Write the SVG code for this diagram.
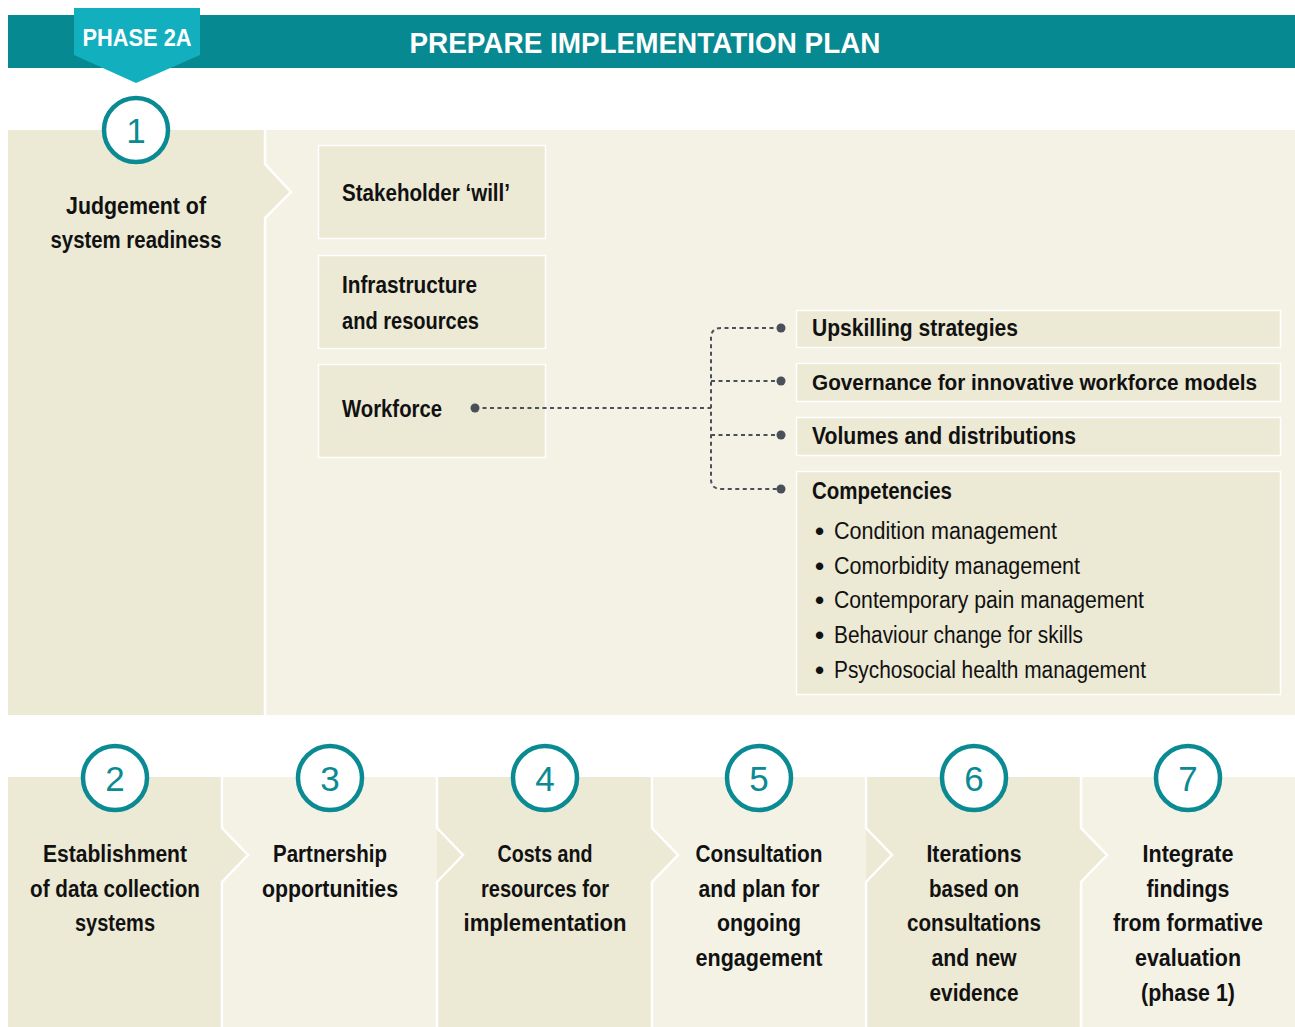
<svg xmlns="http://www.w3.org/2000/svg" width="1295" height="1027" viewBox="0 0 1295 1027">
<style>
.t{font-family:"Liberation Sans",Arial,sans-serif;}
.b{font-weight:bold;fill:#111;font-size:23px;}
.r{font-weight:normal;fill:#111;font-size:23px;}
.c{text-anchor:middle;}
.num{font-family:"Liberation Sans",Arial,sans-serif;font-size:35px;fill:#0a8a92;text-anchor:middle;}
.ring{fill:#fff;stroke:#0a8a92;stroke-width:4.5;}
.dark{fill:#ece9d4;}
.light{fill:#f4f2e5;}
.box{fill:#ece9d4;stroke:#fff;stroke-width:1.5;}
.sep{fill:none;stroke:#fff;stroke-width:2.5;}
.dash{fill:none;stroke:#4a5059;stroke-width:2;stroke-dasharray:4 3.5;}
.dot{fill:#4a5059;}
.bul{font-family:"Liberation Sans",Arial,sans-serif;font-weight:bold;fill:#111;font-size:26px;}
</style>
<rect width="1295" height="1027" fill="#fff"/>
<g id="header">
<rect x="8" y="15" width="1287" height="53" fill="#078991"/>
<polygon points="74,8 200,8 200,55 136,83 74,55" fill="#12b0bf"/>
<text x="137" y="46" class="t" font-weight="bold" font-size="24" fill="#fff" text-anchor="middle" textLength="109" lengthAdjust="spacingAndGlyphs">PHASE 2A</text>
<text x="645" y="53" class="t" font-weight="bold" font-size="29" fill="#fff" text-anchor="middle" textLength="471" lengthAdjust="spacingAndGlyphs">PREPARE IMPLEMENTATION PLAN</text>
</g>
<g id="panel-top">
<rect x="265" y="130" width="1030" height="585" class="light"/>
<polygon points="8,130 265,130 265,164 291,192 265,218 265,715 8,715" class="dark"/>
<polyline points="265,130 265,164 291,192 265,218 265,715" class="sep"/>
</g>
<g id="step1">
<circle cx="136" cy="130" r="32" class="ring"/>
<text x="136" y="143" class="num">1</text>
<text x="136" y="214" class="t b c" textLength="140" lengthAdjust="spacingAndGlyphs">Judgement of</text>
<text x="136" y="248" class="t b c" textLength="171" lengthAdjust="spacingAndGlyphs">system readiness</text>
</g>
<g id="stakeholder">
<rect x="318.5" y="145.5" width="227" height="93" class="box"/>
<text x="342" y="201" class="t b" textLength="168" lengthAdjust="spacingAndGlyphs">Stakeholder ‘will’</text>
</g>
<g id="infrastructure">
<rect x="318.5" y="255.5" width="227" height="93" class="box"/>
<text x="342" y="293" class="t b" textLength="135" lengthAdjust="spacingAndGlyphs">Infrastructure</text>
<text x="342" y="329" class="t b" textLength="137" lengthAdjust="spacingAndGlyphs">and resources</text>
</g>
<g id="workforce">
<rect x="318.5" y="364.5" width="227" height="93" class="box"/>
<text x="342" y="417" class="t b" textLength="100" lengthAdjust="spacingAndGlyphs">Workforce</text>
</g>
<g id="connectors">
<path d="M475,408 H711" class="dash"/>
<path d="M781,328 H721 Q711,328 711,338 V479 Q711,489 721,489 H781" class="dash"/>
<path d="M711,381 H781 M711,435 H781" class="dash"/>
<circle cx="475" cy="408" r="4.5" class="dot"/>
<circle cx="781" cy="328" r="4.5" class="dot"/>
<circle cx="781" cy="381" r="4.5" class="dot"/>
<circle cx="781" cy="435" r="4.5" class="dot"/>
<circle cx="781" cy="489" r="4.5" class="dot"/>
</g>
<g id="upskilling">
<rect x="796.5" y="310.5" width="484" height="37" class="box"/>
<text x="812" y="336" class="t b" textLength="206" lengthAdjust="spacingAndGlyphs">Upskilling strategies</text>
</g>
<g id="governance">
<rect x="796.5" y="363.5" width="484" height="38" class="box"/>
<text x="812" y="390" class="t b" style="font-size:21.5px" textLength="445" lengthAdjust="spacingAndGlyphs">Governance for innovative workforce models</text>
</g>
<g id="volumes">
<rect x="796.5" y="417.5" width="484" height="38" class="box"/>
<text x="812" y="444" class="t b" textLength="264" lengthAdjust="spacingAndGlyphs">Volumes and distributions</text>
</g>
<g id="competencies">
<rect x="796.5" y="471.5" width="484" height="223" class="box"/>
<text x="812" y="499" class="t b" textLength="140" lengthAdjust="spacingAndGlyphs">Competencies</text>
<text x="815" y="540" class="bul">•</text>
<text x="834" y="539" class="t r" textLength="223" lengthAdjust="spacingAndGlyphs">Condition management</text>
<text x="815" y="575" class="bul">•</text>
<text x="834" y="574" class="t r" textLength="246" lengthAdjust="spacingAndGlyphs">Comorbidity management</text>
<text x="815" y="609" class="bul">•</text>
<text x="834" y="608" class="t r" textLength="310" lengthAdjust="spacingAndGlyphs">Contemporary pain management</text>
<text x="815" y="644" class="bul">•</text>
<text x="834" y="643" class="t r" textLength="249" lengthAdjust="spacingAndGlyphs">Behaviour change for skills</text>
<text x="815" y="679" class="bul">•</text>
<text x="834" y="678" class="t r" textLength="312" lengthAdjust="spacingAndGlyphs">Psychosocial health management</text>
</g>
<g id="panel-bottom">
<rect x="8" y="777" width="1287" height="250" class="light"/>
<polygon points="8,777 222,777 222,828 248,855 222,882 222,1027 8,1027" class="dark"/>
<polygon points="437,777 652,777 652,828 678,855 652,882 652,1027 437,1027" class="dark"/>
<polygon points="866,777 1081,777 1081,828 1107,855 1081,882 1081,1027 866,1027" class="dark"/>
<polyline points="222,777 222,828 248,855 222,882 222,1027" class="sep"/>
<polyline points="437,777 437,828 463,855 437,882 437,1027" class="sep"/>
<polyline points="652,777 652,828 678,855 652,882 652,1027" class="sep"/>
<polyline points="866,777 866,828 892,855 866,882 866,1027" class="sep"/>
<polyline points="1081,777 1081,828 1107,855 1081,882 1081,1027" class="sep"/>
</g>
<g id="step2">
<circle cx="115" cy="778" r="32" class="ring"/>
<text x="115" y="791" class="num">2</text>
<text x="115" y="862" class="t b c" textLength="144" lengthAdjust="spacingAndGlyphs">Establishment</text>
<text x="115" y="897" class="t b c" textLength="170" lengthAdjust="spacingAndGlyphs">of data collection</text>
<text x="115" y="931" class="t b c" textLength="80" lengthAdjust="spacingAndGlyphs">systems</text>
</g>
<g id="step3">
<circle cx="330" cy="778" r="32" class="ring"/>
<text x="330" y="791" class="num">3</text>
<text x="330" y="862" class="t b c" textLength="114" lengthAdjust="spacingAndGlyphs">Partnership</text>
<text x="330" y="897" class="t b c" textLength="136" lengthAdjust="spacingAndGlyphs">opportunities</text>
</g>
<g id="step4">
<circle cx="545" cy="778" r="32" class="ring"/>
<text x="545" y="791" class="num">4</text>
<text x="545" y="862" class="t b c" textLength="95" lengthAdjust="spacingAndGlyphs">Costs and</text>
<text x="545" y="897" class="t b c" textLength="128" lengthAdjust="spacingAndGlyphs">resources for</text>
<text x="545" y="931" class="t b c" textLength="163" lengthAdjust="spacingAndGlyphs">implementation</text>
</g>
<g id="step5">
<circle cx="759" cy="778" r="32" class="ring"/>
<text x="759" y="791" class="num">5</text>
<text x="759" y="862" class="t b c" textLength="127" lengthAdjust="spacingAndGlyphs">Consultation</text>
<text x="759" y="897" class="t b c" textLength="121" lengthAdjust="spacingAndGlyphs">and plan for</text>
<text x="759" y="931" class="t b c" textLength="84" lengthAdjust="spacingAndGlyphs">ongoing</text>
<text x="759" y="966" class="t b c" textLength="127" lengthAdjust="spacingAndGlyphs">engagement</text>
</g>
<g id="step6">
<circle cx="974" cy="778" r="32" class="ring"/>
<text x="974" y="791" class="num">6</text>
<text x="974" y="862" class="t b c" textLength="95" lengthAdjust="spacingAndGlyphs">Iterations</text>
<text x="974" y="897" class="t b c" textLength="90" lengthAdjust="spacingAndGlyphs">based on</text>
<text x="974" y="931" class="t b c" textLength="134" lengthAdjust="spacingAndGlyphs">consultations</text>
<text x="974" y="966" class="t b c" textLength="85" lengthAdjust="spacingAndGlyphs">and new</text>
<text x="974" y="1001" class="t b c" textLength="89" lengthAdjust="spacingAndGlyphs">evidence</text>
</g>
<g id="step7">
<circle cx="1188" cy="778" r="32" class="ring"/>
<text x="1188" y="791" class="num">7</text>
<text x="1188" y="862" class="t b c" textLength="91" lengthAdjust="spacingAndGlyphs">Integrate</text>
<text x="1188" y="897" class="t b c" textLength="83" lengthAdjust="spacingAndGlyphs">findings</text>
<text x="1188" y="931" class="t b c" textLength="150" lengthAdjust="spacingAndGlyphs">from formative</text>
<text x="1188" y="966" class="t b c" textLength="106" lengthAdjust="spacingAndGlyphs">evaluation</text>
<text x="1188" y="1001" class="t b c" textLength="94" lengthAdjust="spacingAndGlyphs">(phase 1)</text>
</g>
</svg>
